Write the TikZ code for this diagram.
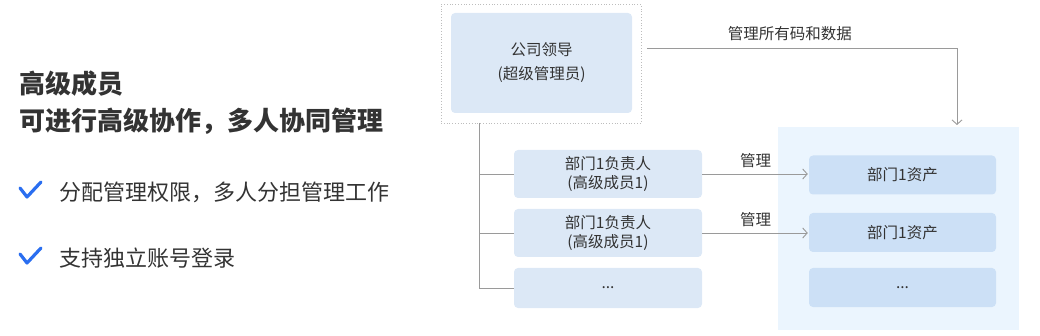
\documentclass[tikz,border=0pt]{standalone}
\usepackage{fontspec}
\setmainfont{Noto Sans CJK SC}
\usetikzlibrary{arrows.meta}
\definecolor{boxblue}{HTML}{DCE8F6}
\definecolor{assetblue}{HTML}{CCE0F6}
\definecolor{panelblue}{HTML}{EBF5FE}
\definecolor{linegray}{HTML}{9A9A9A}
\definecolor{framegray}{HTML}{BDBDBD}
\definecolor{textgray}{HTML}{333333}
\definecolor{tickblue}{HTML}{2A6EF0}
\tikzset{
  boxtext/.style={font=\fontsize{15.5}{24}\selectfont, text=textgray, align=center, inner sep=0pt},
  memberbox/.style={boxtext, fill=boxblue, rounded corners=4pt, minimum width=188pt},
  assetbox/.style={boxtext, fill=assetblue, rounded corners=4pt, minimum width=187pt, minimum height=39pt},
  flowline/.style={draw=linegray, line width=0.9pt},
  flowarrow/.style={flowline, -{Straight Barb[length=4.5pt,width=10pt]}},
  ticksign/.style={draw=tickblue, line width=3.2pt, line cap=round, line join=round},
}
\begin{document}
\begin{tikzpicture}[x=1pt,y=-1pt]
\useasboundingbox (0,0) rectangle (1040,336);
% left side text
\node[anchor=west, inner sep=0pt, text=textgray, font=\fontsize{26}{30}\selectfont\bfseries] (title) at (19,84) {高级成员};
\node[anchor=west, inner sep=0pt, text=textgray, font=\fontsize{26}{30}\selectfont\bfseries] (subtitle) at (19,121) {可进行高级协作，多人协同管理};
\draw[ticksign] (20,188) -- (27,197) -- (41,182);
\node[anchor=west, inner sep=0pt, text=textgray, font=\fontsize{22}{26}\selectfont] (point1) at (59,192) {分配管理权限，多人分担管理工作};
\draw[ticksign] (20,254) -- (27,263) -- (41,248);
\node[anchor=west, inner sep=0pt, text=textgray, font=\fontsize{22}{26}\selectfont] (point2) at (59,258) {支持独立账号登录};
% leader
\node[draw=framegray, dotted, line width=0.8pt, minimum width=200pt, minimum height=119pt] (leadframe) at (541,63.5) {};
\node[memberbox, minimum width=181pt, minimum height=100pt] (leader) at (541.5,63) {公司领导\\(超级管理员)};
% assets panel
\fill[panelblue] (778,127) rectangle (1019,330);
\coordinate (panel) at (898.5,127);
\node[assetbox] (a1) at (902.5,175) {部门1资产};
\node[assetbox] (a2) at (902.5,232.5) {部门1资产};
\node[assetbox] (a3) at (902.5,287.5) {...};
% members
\node[memberbox, minimum height=48pt, font=\fontsize{15.5}{19}\selectfont] (m1) at (608,174) {部门1负责人\\(高级成员1)};
\node[memberbox, minimum height=48pt, font=\fontsize{15.5}{19}\selectfont] (m2) at (608,233) {部门1负责人\\(高级成员1)};
\node[memberbox, minimum height=40pt] (m3) at (608,288) {...};
% connectors
\draw[flowarrow, shorten >=2pt] ([xshift=6pt,yshift=15.5pt]leadframe.east) -| node[pos=0.23, above=7pt, boxtext] {管理所有码和数据} ([xshift=58.5pt]panel);
\coordinate (trunk) at (479,123);
\draw[flowline] (trunk) |- (m3.west);
\draw[flowline] (trunk |- m1.west) -- (m1.west);
\draw[flowline] (trunk |- m2.west) -- (m2.west);
\draw[flowarrow, shorten >=1pt] (m1.east) -- node[above=6pt, boxtext] {管理} (m1.east -| a1.west);
\draw[flowarrow, shorten >=1pt] (m2.east) -- node[above=6pt, boxtext] {管理} (m2.east -| a2.west);
\end{tikzpicture}
\end{document}
